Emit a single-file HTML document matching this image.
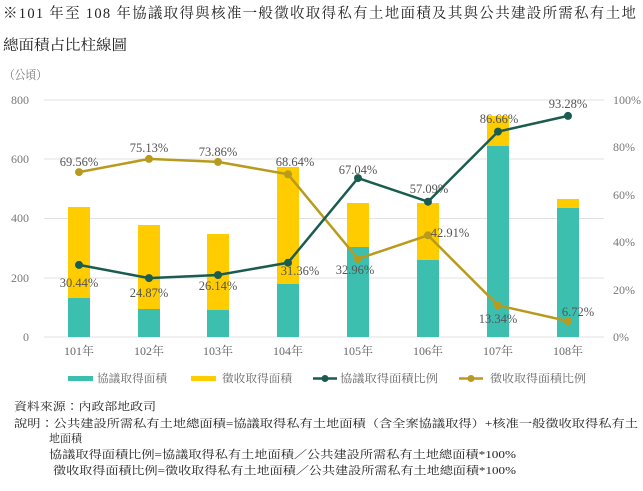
<!DOCTYPE html>
<html><head><meta charset="utf-8"><style>
body{margin:0;background:#fff;width:643px;height:486px;overflow:hidden;font-family:"Liberation Serif","Noto Serif CJK SC",serif;}
svg text{font-family:"Liberation Serif","Noto Serif CJK TC",serif;}
</style></head><body>
<svg width="643" height="486" xmlns="http://www.w3.org/2000/svg">
<text x="3" y="18" font-size="14.5" fill="#222" textLength="633" lengthAdjust="spacing">※101 年至 108 年協議取得與核准一般徵收取得私有土地面積及其與公共建設所需私有土地</text>
<text x="3" y="50" font-size="14.5" fill="#222" textLength="124" lengthAdjust="spacingAndGlyphs">總面積占比柱線圖</text>
<text x="4" y="79" font-size="12" fill="#777" textLength="43" lengthAdjust="spacingAndGlyphs">（公頃）</text>
<g stroke="#e2e2e2" stroke-width="1">
<line x1="44" y1="100" x2="604" y2="100"/><line x1="44" y1="159" x2="604" y2="159"/><line x1="44" y1="218.5" x2="604" y2="218.5"/><line x1="44" y1="278" x2="604" y2="278"/><line x1="44" y1="337" x2="604" y2="337"/>
</g>
<g font-size="12" fill="#777" text-anchor="end">
<text x="29" y="104">800</text><text x="29" y="163">600</text><text x="29" y="222">400</text><text x="29" y="282">200</text><text x="29" y="341">0</text>
</g>
<g font-size="12" fill="#777" text-anchor="start">
<text x="613" y="104">100%</text><text x="613" y="151">80%</text><text x="613" y="199">60%</text><text x="613" y="246">40%</text><text x="613" y="294">20%</text><text x="613" y="341">0%</text>
</g>
<g>
<rect x="68" y="207" width="22" height="91" fill="#ffcc00"/><rect x="68" y="298" width="22" height="39" fill="#3dbfb0"/>
<rect x="138" y="225" width="22" height="84" fill="#ffcc00"/><rect x="138" y="309" width="22" height="28" fill="#3dbfb0"/>
<rect x="207" y="234" width="22" height="76" fill="#ffcc00"/><rect x="207" y="310" width="22" height="27" fill="#3dbfb0"/>
<rect x="277" y="167" width="22" height="117" fill="#ffcc00"/><rect x="277" y="284" width="22" height="53" fill="#3dbfb0"/>
<rect x="347" y="203" width="22" height="44" fill="#ffcc00"/><rect x="347" y="247" width="22" height="90" fill="#3dbfb0"/>
<rect x="417" y="203" width="22" height="57" fill="#ffcc00"/><rect x="417" y="260" width="22" height="77" fill="#3dbfb0"/>
<rect x="487" y="116" width="22" height="30" fill="#ffcc00"/><rect x="487" y="146" width="22" height="191" fill="#3dbfb0"/>
<rect x="557" y="199" width="22" height="9" fill="#ffcc00"/><rect x="557" y="208" width="22" height="129" fill="#3dbfb0"/>
</g>
<polyline points="79,172.1 149,158.9 218,161.9 288,174.3 358,258.9 428,235.3 498,305.4 568,321.1" fill="none" stroke="#b89b1e" stroke-width="2.5"/>
<g fill="#b89b1e"><circle cx="79" cy="172.1" r="4"/><circle cx="149" cy="158.9" r="4"/><circle cx="218" cy="161.9" r="4"/><circle cx="288" cy="174.3" r="4"/><circle cx="358" cy="258.9" r="4"/><circle cx="428" cy="235.3" r="4"/><circle cx="498" cy="305.4" r="4"/><circle cx="568" cy="321.1" r="4"/></g>
<polyline points="79,264.9 149,278.1 218,275 288,262.7 358,178.1 428,201.7 498,131.6 568,115.9" fill="none" stroke="#1a5c4f" stroke-width="2.5"/>
<g fill="#1a5c4f"><circle cx="79" cy="264.9" r="4"/><circle cx="149" cy="278.1" r="4"/><circle cx="218" cy="275" r="4"/><circle cx="288" cy="262.7" r="4"/><circle cx="358" cy="178.1" r="4"/><circle cx="428" cy="201.7" r="4"/><circle cx="498" cy="131.6" r="4"/><circle cx="568" cy="115.9" r="4"/></g>
<g font-size="12.5" fill="#555" text-anchor="middle">
<text x="79" y="166">69.56%</text><text x="79" y="287">30.44%</text>
<text x="149" y="152">75.13%</text><text x="149" y="297">24.87%</text>
<text x="218" y="156">73.86%</text><text x="218" y="290">26.14%</text>
<text x="295" y="166">68.64%</text><text x="300" y="275">31.36%</text>
<text x="358" y="174">67.04%</text><text x="355" y="274">32.96%</text>
<text x="429" y="193">57.09%</text><text x="450" y="237">42.91%</text>
<text x="499" y="123">86.66%</text><text x="498" y="323">13.34%</text>
<text x="568" y="108">93.28%</text><text x="578" y="316">6.72%</text>
</g>
<g font-size="12" fill="#666" text-anchor="middle">
<text x="79" y="355">101年</text><text x="149" y="355">102年</text><text x="218" y="355">103年</text><text x="288" y="355">104年</text><text x="358" y="355">105年</text><text x="428" y="355">106年</text><text x="498" y="355">107年</text><text x="568" y="355">108年</text>
</g>
<g font-size="11" fill="#666">
<rect x="68" y="376" width="25" height="5" fill="#3dbfb0"/><text x="97" y="382" textLength="70" lengthAdjust="spacingAndGlyphs">協議取得面積</text>
<rect x="191" y="376" width="25" height="5" fill="#ffcc00"/><text x="222" y="382" textLength="70" lengthAdjust="spacingAndGlyphs">徵收取得面積</text>
<line x1="313" y1="378.5" x2="337" y2="378.5" stroke="#1a5c4f" stroke-width="2.5"/><circle cx="325" cy="378.5" r="3.5" fill="#1a5c4f"/><text x="340" y="382" textLength="98" lengthAdjust="spacingAndGlyphs">協議取得面積比例</text>
<line x1="459" y1="378.5" x2="483" y2="378.5" stroke="#b89b1e" stroke-width="2.5"/><circle cx="471" cy="378.5" r="3.5" fill="#b89b1e"/><text x="490" y="382" textLength="96" lengthAdjust="spacingAndGlyphs">徵收取得面積比例</text>
</g>
<g font-size="11" fill="#222">
<text x="14" y="410" textLength="142" lengthAdjust="spacingAndGlyphs">資料來源：內政部地政司</text>
<text x="14" y="427" textLength="624" lengthAdjust="spacingAndGlyphs">說明：公共建設所需私有土地總面積=協議取得私有土地面積（含全案協議取得）+核准一般徵收取得私有土</text>
<text x="49" y="442" textLength="33" lengthAdjust="spacing">地面積</text>
<text x="49" y="458" textLength="467" lengthAdjust="spacingAndGlyphs">協議取得面積比例=協議取得私有土地面積／公共建設所需私有土地總面積*100%</text>
<text x="53" y="474" textLength="463" lengthAdjust="spacingAndGlyphs">徵收取得面積比例=徵收取得私有土地面積／公共建設所需私有土地總面積*100%</text>
</g>
</svg>
</body></html>
